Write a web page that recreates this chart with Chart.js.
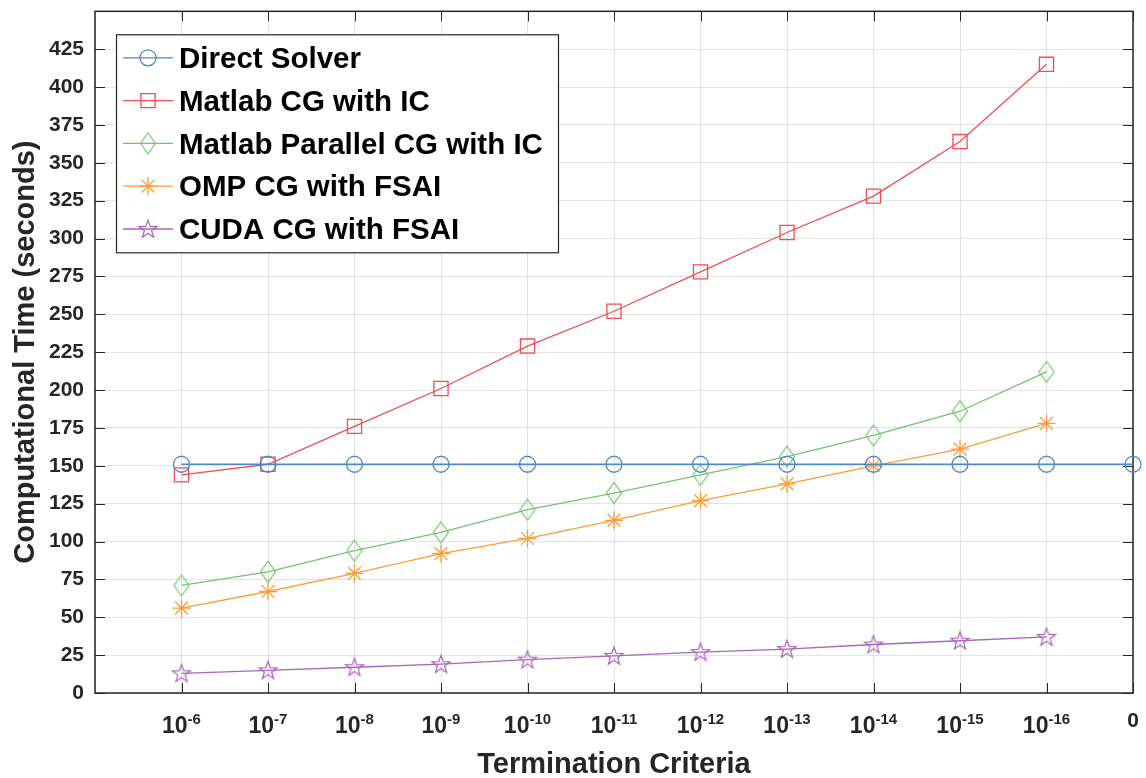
<!DOCTYPE html>
<html>
<head>
<meta charset="utf-8">
<script src="https://cdn.jsdelivr.net/npm/chart.js"></script>
<style>
  html, body { margin: 0; padding: 0; background: #fff; }
  #chart { display: block; }
</style>
</head>
<body>
<canvas id="chart" width="1146" height="778"></canvas>
<script>
// x categories (first slot is an empty padding category, last one is "0")
const xTickLabels = ['', '10^-6', '10^-7', '10^-8', '10^-9', '10^-10', '10^-11', '10^-12', '10^-13', '10^-14', '10^-15', '10^-16', '0'];

// series values, seconds (null = no point)
const directSolver = [null, 151, 151, 151, 151, 151, 151, 151, 151, 151, 151, 151, 151];
const matlabCG = [null, 144, 151, 176, 201, 229, 252, 278, 304, 328, 364, 415, null];
const matlabParallelCG = [null, 71, 80, 94, 106, 121, 132, 144, 156, 170, 186, 212, null];
const ompCG = [null, 56, 67, 79, 92, 102, 114, 127, 138, 150, 161, 178, null];
const cudaCG = [null, 13, 15, 17, 19, 22, 24.5, 27, 29, 32, 34.5, 37, null];

const seriesNames = ['Direct Solver', 'Matlab CG with IC', 'Matlab Parallel CG with IC', 'OMP CG with FSAI', 'CUDA CG with FSAI'];
const yTicksMax = 450;
const yStep = 25;

const colors = {
    blue: '#5088c2',
    red: '#ec4f55',
    green: '#76c270',
    orange: '#ff9b38',
    purple: '#aa64ba'
};
const axisColor = '#262626';
const fontFamily = '"Liberation Sans", Arial, sans-serif';

// custom marker shapes (tall diamond and pentagram like matlab)
const makeDiamond = (color) => {
    const c = document.createElement('canvas');
    c.width = 20; c.height = 26;
    const g = c.getContext('2d');
    g.strokeStyle = color;
    g.lineWidth = 1.2;
    g.beginPath();
    g.moveTo(10, 2.5);
    g.lineTo(17.5, 13);
    g.lineTo(10, 23.5);
    g.lineTo(2.5, 13);
    g.closePath();
    g.stroke();
    return c;
}

const makePentagram = (color) => {
    const c = document.createElement('canvas');
    c.width = 24; c.height = 24;
    const g = c.getContext('2d');
    g.strokeStyle = color;
    g.lineWidth = 1.2;
    g.beginPath();
    for (let i = 0; i < 10; i++) {
        const r = i % 2 == 0 ? 9.5 : 3.8;
        const a = -Math.PI / 2 + i * Math.PI / 5;
        const px = 12 + r * Math.cos(a);
        const py = 12.5 + r * Math.sin(a);
        if (i == 0) g.moveTo(px, py); else g.lineTo(px, py);
    }
    g.closePath();
    g.stroke();
    return c;
}

const makeSet = (label, data, color, pointStyle, radius) => {
    return {
        label: label,
        data: data,
        borderColor: color,
        backgroundColor: 'transparent',
        borderWidth: 1.3,
        pointStyle: pointStyle,
        pointRadius: radius,
        pointHoverRadius: radius,
        pointBorderColor: color,
        pointBackgroundColor: 'transparent',
        pointBorderWidth: 1.3,
        tension: 0,
        clip: false
    }
}

const datasets = [
    makeSet(seriesNames[0], directSolver, colors.blue, 'circle', 8),
    makeSet(seriesNames[1], matlabCG, colors.red, 'rect', 10),
    makeSet(seriesNames[2], matlabParallelCG, colors.green, makeDiamond(colors.green), 10),
    makeSet(seriesNames[3], ompCG, colors.orange, 'star', 9),
    makeSet(seriesNames[4], cudaCG, colors.purple, makePentagram(colors.purple), 10)
];

//box + inward ticks, matlab style
const boxPlugin = {
    id: 'box',
    beforeDatasetsDraw(chart) {
        const ctx = chart.ctx;
        const {left, right, top, bottom} = chart.chartArea;
        const xs = chart.scales.x, ys = chart.scales.y;
        ctx.save();
        ctx.strokeStyle = axisColor;
        ctx.lineWidth = 1;
        ctx.beginPath();
        for (let i = 1; i < xTickLabels.length; i++) {
            const px = Math.round(xs.getPixelForValue(i)) + 0.5;
            ctx.moveTo(px, bottom); ctx.lineTo(px, bottom - 10);
            ctx.moveTo(px, top); ctx.lineTo(px, top + 10);
        }
        ys.ticks.forEach(t => {
            const py = Math.round(ys.getPixelForValue(t.value)) + 0.5;
            ctx.moveTo(left, py); ctx.lineTo(left + 10, py);
            ctx.moveTo(right, py); ctx.lineTo(right - 10, py);
        });
        ctx.stroke();
        ctx.lineWidth = 1.5;
        ctx.strokeRect(left, top, right - left, bottom - top);

        // x tick labels with superscript exponents
        ctx.fillStyle = axisColor;
        ctx.textBaseline = 'alphabetic';
        ctx.textAlign = 'left';
        const baseFont = 'bold 23px ' + fontFamily;
        const expFont = 'bold 15px ' + fontFamily;
        const plainFont = 'bold 21px ' + fontFamily;
        xTickLabels.forEach((lab, i) => {
            if (!lab) return;
            const px = xs.getPixelForValue(i);
            const parts = lab.split('^');
            if (parts.length == 1) {
                ctx.font = plainFont;
                const w = ctx.measureText(parts[0]).width;
                ctx.fillText(parts[0], px - w / 2, bottom + 34);
                return;
            }
            ctx.font = baseFont;
            const w1 = ctx.measureText(parts[0]).width;
            ctx.font = expFont;
            const w2 = ctx.measureText(parts[1]).width;
            const x0 = px - (w1 + w2) / 2;
            ctx.font = baseFont;
            ctx.fillText(parts[0], x0, bottom + 40);
            ctx.font = expFont;
            ctx.fillText(parts[1], x0 + w1, bottom + 31);
        });
        ctx.restore();
    }
}

//legend drawn inside the axes like matlab 'northwest'
const legendPlugin = {
    id: 'boxLegend',
    afterDraw(chart) {
        const ctx = chart.ctx;
        const {left, top} = chart.chartArea;
        const lx = left + 21, ly = top + 23, w = 442, h = 218;
        ctx.save();
        ctx.fillStyle = '#ffffff';
        ctx.fillRect(lx, ly, w, h);
        ctx.strokeStyle = axisColor;
        ctx.lineWidth = 1.2;
        ctx.strokeRect(lx + 0.5, ly + 0.5, w, h);
        chart.data.datasets.forEach((set, i) => {
            const cy = ly + 23.5 + i * 42.8;
            ctx.strokeStyle = set.borderColor;
            ctx.lineWidth = 1.3;
            ctx.beginPath();
            ctx.moveTo(lx + 7, cy);
            ctx.lineTo(lx + 57, cy);
            ctx.stroke();
            ctx.fillStyle = 'rgba(0,0,0,0)';
            Chart.helpers.drawPoint(ctx, {
                pointStyle: set.pointStyle,
                radius: set.pointRadius,
                borderWidth: 1.3,
                rotation: 0
            }, lx + 32, cy);
            ctx.fillStyle = '#000000';
            ctx.font = 'bold 29.5px ' + fontFamily;
            ctx.textBaseline = 'middle';
            ctx.textAlign = 'left';
            ctx.fillText(set.label, lx + 63, cy + 2);
        });
        ctx.restore();
    }
}

const ctx = document.getElementById('chart').getContext('2d');
const chart = new Chart(ctx, {
    type: 'line',
    data: {
        labels: xTickLabels,
        datasets: datasets
    },
    options: {
        responsive: false,
        devicePixelRatio: 1,
        animation: false,
        layout: {
            padding: {left: 0, top: 10, right: 13, bottom: 0}
        },
        plugins: {
            legend: {display: false},
            tooltip: {enabled: false}
        },
        scales: {
            x: {
                type: 'category',
                offset: false,
                grid: {
                    color: 'rgba(38,38,38,0.13)',
                    drawTicks: false
                },
                border: {display: false},
                ticks: {
                    autoSkip: false,
                    maxRotation: 0,
                    callback: () => ''
                },
                title: {
                    display: true,
                    text: 'Termination Criteria',
                    color: axisColor,
                    font: {family: fontFamily, size: 29, weight: 'bold'},
                    padding: {top: 0, bottom: -4}
                },
                afterFit: (scale) => {
                    scale.height = 85;
                    scale.paddingLeft = 0;
                    scale.paddingRight = 0;
                }
            },
            y: {
                min: 0,
                max: yTicksMax,
                grid: {
                    color: 'rgba(38,38,38,0.13)',
                    drawTicks: false
                },
                border: {display: false},
                ticks: {
                    stepSize: yStep,
                    padding: 11,
                    color: axisColor,
                    font: {family: fontFamily, size: 21, weight: 'bold'},
                    callback: (v) => v >= yTicksMax ? '' : v
                },
                title: {
                    display: true,
                    text: 'Computational Time (seconds)',
                    color: axisColor,
                    font: {family: fontFamily, size: 29, weight: 'bold'},
                    padding: {top: 8.5, bottom: 0}
                },
                afterFit: (scale) => {
                    scale.width = 95;
                    scale.paddingTop = 0;
                    scale.paddingBottom = 0;
                }
            }
        }
    },
    plugins: [boxPlugin, legendPlugin]
});
</script>
</body>
</html>
